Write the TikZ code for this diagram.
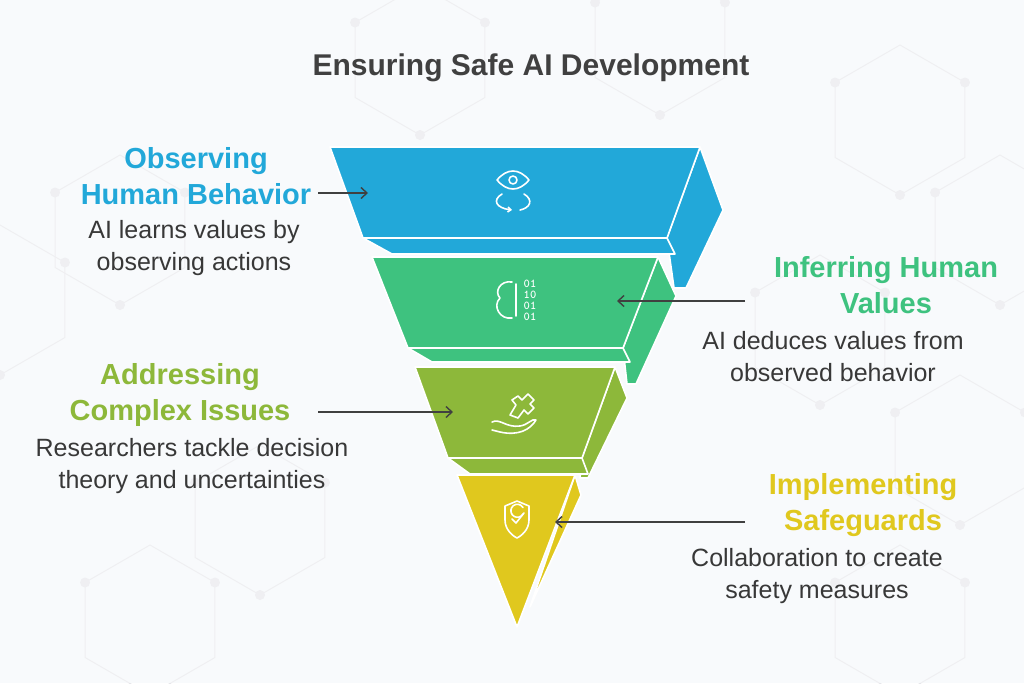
\documentclass[tikz,border=0pt]{standalone}
\usepackage{fontspec}
\setmainfont{Liberation Sans}
\usetikzlibrary{arrows.meta}
\begin{document}
\begin{tikzpicture}[x=1pt,y=-1pt,
  face/.style={draw=white,line width=1.6pt,line join=round},
  ico/.style={draw=white,line width=1.6pt,line cap=round,line join=round},
  ttl/.style={font=\bfseries\fontsize{29}{36}\selectfont,align=center},
  dsc/.style={font=\fontsize{25}{32}\selectfont,text=black!78,align=center},
  arr/.style={draw=black!75,line width=1.4pt,-{Straight Barb[length=6pt,width=11pt]}},
  hex/.style={draw=blue!10!gray!20,line width=1pt},
  dot/.style={fill=blue!12!gray!20}]
\definecolor{bg}{HTML}{F3F7FA}
\fill[bg] (0,0) rectangle (1024,683);
\useasboundingbox (0,0) rectangle (1024,683);
% background hexagons
\foreach \cx/\cy in {0/300, 120/230, 900/120, 1000/230, 900/620, 150/620, 260/520, 820/330, 960/450, 420/60, 660/40} {
  \draw[hex] (\cx,\cy) +(90:75) -- +(150:75) -- +(210:75) -- +(270:75) -- +(330:75) -- +(30:75) -- cycle;
  \fill[dot] (\cx,\cy) +(90:75) circle (5) +(210:75) circle (5) +(330:75) circle (5);
}
\fill[white,opacity=0.45] (0,0) rectangle (1024,683);
\definecolor{cB}{HTML}{22A8D9}
\definecolor{cG}{HTML}{3EC27F}
\definecolor{cO}{HTML}{8DB83A}
\definecolor{cY}{HTML}{E0C81E}
% title
\node[font=\bfseries\fontsize{30}{34}\selectfont,text=black!75] (title) at (531,68) {Ensuring Safe AI Development};
% blue layer
\path[face,fill=cB] (700,147) -- (723,210) -- (686,288) -- (674,288) -- (667,238) -- cycle;
\path[face,fill=cB] (363,238) -- (667,238) -- (675,254) -- (392,254) -- cycle;
\path[face,fill=cB] (330,147) -- (700,147) -- (667,238) -- (363,238) -- cycle;
\coordinate (b1) at (368,193);
% green layer
\path[face,fill=cG] (658,257) -- (676,296) -- (636,384) -- (627,384) -- (623,348) -- cycle;
\path[face,fill=cG] (408,348) -- (623,348) -- (630,362) -- (432,362) -- cycle;
\path[face,fill=cG] (372,257) -- (658,257) -- (623,348) -- (408,348) -- cycle;
\coordinate (g1) at (617,301);
% olive layer
\path[face,fill=cO] (615,367) -- (627,398) -- (588,478) -- (580,478) -- (582,458) -- cycle;
\path[face,fill=cO] (448,458) -- (582,458) -- (588,474) -- (470,474) -- cycle;
\path[face,fill=cO] (415,367) -- (615,367) -- (582,458) -- (448,458) -- cycle;
\coordinate (o1) at (453,412);
% yellow layer
\path[face,fill=cY] (575,475) -- (581,495) -- (530,607) -- cycle;
\path[face,fill=cY] (457,475) -- (575,475) -- (517,627) -- cycle;
\coordinate (y1) at (555,522);
% icons
\draw[ico] (497,180) .. controls (507,168) and (519,168) .. (529,180) .. controls (519,192) and (507,192) .. (497,180) -- cycle;
\draw[ico] (513,180) circle (4);
\draw[ico,-{Straight Barb[length=3pt,width=5pt]}] (502,194) .. controls (492,200) and (496,208) .. (512,210);
\draw[ico] (524,194) .. controls (534,200) and (530,208) .. (520,210);
\draw[ico] (512,282) .. controls (500,280) and (494,292) .. (500,298) .. controls (492,306) and (500,320) .. (512,318);
\draw[ico] (516,284) -- (516,316);
\node[text=white,font=\ttfamily\bfseries\fontsize{12}{11}\selectfont,align=center,inner sep=0] (bits) at (530,300) {01\\10\\01\\01};
\draw[ico] (492,422) .. controls (500,418) and (506,428) .. (520,426) .. controls (528,425) and (532,418) .. (536,420) .. controls (530,430) and (518,436) .. (500,432) -- (492,430);
\draw[ico] (510,415) -- (516,405) -- (512,400) -- (518,396) -- (522,400) -- (528,394) -- (534,400) -- (530,404) -- (534,408) -- (528,414) -- (524,410) -- (518,418) -- cycle;
\draw[ico] (505,506) -- (517,501) -- (529,506) -- (529,520) .. controls (529,530) and (521,536) .. (517,538) .. controls (513,536) and (505,530) .. (505,520) -- cycle;
\draw[ico] (523,514) arc (30:330:6.5);
\draw[ico] (512,519) -- (516,523) -- (524,513);
% texts
\node[ttl,text=cB] (t1) at (196,176) {Observing\\Human Behavior};
\node[dsc] (d1) at (194,248) {AI learns values by\\observing actions};
\node[ttl,text=cG] (t2) at (886,285) {Inferring Human\\Values};
\node[dsc] (d2) at (833,357) {AI deduces values from\\observed behavior};
\node[ttl,text=cO] (t3) at (180,395) {Addressing\\Complex Issues};
\node[dsc] (d3) at (192,466) {Researchers tackle decision\\theory and uncertainties};
\node[ttl,text=cY] (t4) at (863,505) {Implementing\\Safeguards};
\node[dsc] (d4) at (817,576) {Collaboration to create\\safety measures};
\coordinate (a1) at (318,193);
\coordinate (a2) at (745,301);
\coordinate (a3) at (318,412);
\coordinate (a4) at (745,522);
\draw[arr] (a1) -- (b1);
\draw[arr] (a2) -- (g1);
\draw[arr] (a3) -- (o1);
\draw[arr] (a4) -- (y1);
\end{tikzpicture}
\end{document}
